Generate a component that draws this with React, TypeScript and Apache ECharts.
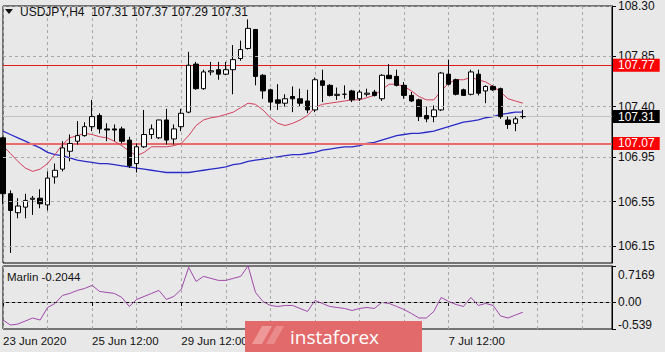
import React, { useEffect, useRef } from 'react';
import * as echarts from 'echarts';

// ---------- data ----------
const symbolName = 'USDJPY,H4';
const tickIndices = [0, 12, 24, 60];
const tickLabels = ['23 Jun 2020', '25 Jun 12:00', '29 Jun 12:00', '7 Jul 12:00'];
const priceTicks = [108.3, 107.85, 107.4, 106.95, 106.55, 106.15];
const marlinTicks = [0.7169, 0, -0.539];
const levelLines = [107.77, 107.07];
const slotCount = 83;

const opens = [107.12,106.62,106.45,106.50,106.57,106.58,106.52,106.77,106.84,107.00,
  107.09,107.14,107.22,107.32,107.20,107.20,107.20,107.10,106.89,107.04,
  107.15,107.12,107.28,107.11,107.22,107.35,107.78,107.56,107.71,107.73,
  107.69,107.73,107.83,107.92,108.09,107.68,107.55,107.46,107.43,107.49,
  107.47,107.45,107.37,107.63,107.59,107.50,107.51,107.54,107.47,107.51,
  107.53,107.47,107.68,107.67,107.59,107.50,107.46,107.32,107.31,107.37,
  107.69,107.64,107.55,107.51,107.69,107.54,107.58,107.56,107.28,107.25,
  107.31];
const closes = [106.62,106.47,106.51,106.56,106.58,106.53,106.76,106.83,107.03,107.07,
  107.14,107.22,107.31,107.20,107.19,107.19,107.09,106.87,107.04,107.15,
  107.20,107.28,107.10,107.20,107.34,107.77,107.56,107.71,107.72,107.69,
  107.73,107.82,107.91,108.10,107.67,107.54,107.44,107.43,107.47,107.47,
  107.43,107.37,107.64,107.59,107.50,107.51,107.51,107.46,107.53,107.52,
  107.50,107.68,107.65,107.59,107.50,107.45,107.31,107.29,107.37,107.70,
  107.60,107.51,107.50,107.71,107.52,107.58,107.55,107.31,107.24,107.29,
  107.31];
const lows = [106.53,106.09,106.40,106.40,106.43,106.49,106.47,106.71,106.82,106.91,
  107.06,107.13,107.18,107.16,107.09,107.09,107.07,106.85,106.81,107.03,
  107.11,107.11,107.06,107.06,107.18,107.34,107.55,107.55,107.68,107.64,
  107.68,107.51,107.81,107.91,107.59,107.47,107.37,107.37,107.40,107.35,
  107.40,107.34,107.35,107.44,107.49,107.46,107.47,107.44,107.45,107.49,
  107.49,107.45,107.65,107.58,107.47,107.44,107.27,107.26,107.26,107.36,
  107.59,107.50,107.50,107.50,107.50,107.43,107.54,107.29,107.20,107.18,
  107.29];
const highs = [107.13,106.65,106.58,106.62,106.60,106.66,106.82,106.89,107.09,107.15,
  107.27,107.26,107.46,107.34,107.25,107.24,107.22,107.13,107.07,107.37,
  107.24,107.28,107.38,107.24,107.38,107.89,107.80,107.73,107.80,107.80,
  107.80,107.95,107.99,108.18,108.09,107.69,107.56,107.60,107.51,107.58,
  107.56,107.55,107.66,107.73,107.60,107.57,107.59,107.55,107.55,107.56,
  107.55,107.69,107.78,107.73,107.62,107.53,107.47,107.40,107.41,107.71,
  107.82,107.65,107.56,107.73,107.73,107.59,107.59,107.57,107.31,107.31,
  107.37];
const redMA = [107.05,106.98,106.91,106.85,106.82,106.84,106.89,106.97,107.06,107.12,
  107.14,107.16,107.15,107.13,107.12,107.09,107.05,107.00,106.96,106.99,
  107.04,107.04,107.04,107.05,107.07,107.14,107.23,107.28,107.30,107.31,
  107.33,107.35,107.39,107.43,107.42,107.37,107.30,107.25,107.23,107.25,
  107.28,107.32,107.39,107.42,107.43,107.44,107.45,107.46,107.46,107.48,
  107.50,107.55,107.60,107.60,107.58,107.54,107.49,107.46,107.46,107.54,
  107.61,107.64,107.64,107.66,107.64,107.62,107.58,107.53,107.47,107.45,
  107.43];
const blueMA = [107.18,107.15,107.12,107.09,107.06,107.03,106.99,106.97,106.96,106.94,
  106.92,106.91,106.90,106.89,106.89,106.88,106.87,106.86,106.85,106.84,
  106.83,106.82,106.81,106.81,106.81,106.81,106.82,106.83,106.84,106.85,
  106.86,106.88,106.89,106.91,106.92,106.93,106.94,106.95,106.96,106.97,
  106.97,106.98,106.99,107.01,107.02,107.03,107.04,107.04,107.05,107.07,
  107.08,107.10,107.12,107.14,107.15,107.16,107.16,107.17,107.18,107.20,
  107.22,107.24,107.26,107.27,107.28,107.30,107.31,107.33,107.34,107.35,
  107.35];
const marlin = [-0.36,-0.46,-0.44,-0.38,-0.32,-0.36,-0.11,-0.03,0.13,0.17,
  0.23,0.27,0.33,0.21,0.19,0.17,0.09,-0.09,0.05,0.11,
  0.17,0.23,0.05,0.11,0.25,0.69,0.41,0.51,0.47,0.43,
  0.43,0.47,0.51,0.7169,0.19,0.01,-0.07,-0.09,-0.07,-0.07,
  -0.13,-0.19,0.03,-0.03,-0.09,-0.11,-0.13,-0.17,-0.13,-0.11,
  -0.13,-0.01,-0.03,-0.09,-0.15,-0.23,-0.32,-0.32,-0.19,0.09,
  0.01,-0.05,-0.09,0.09,-0.07,-0.03,-0.07,-0.28,-0.32,-0.26,
  -0.2044];

const FONT = '"Liberation Sans", Arial, sans-serif';
const GRID_LINE = { color: '#a8a8a8', type: [3, 3] as any, width: 1 };

export default function App() {
  const ref = useRef<HTMLDivElement>(null);
  useEffect(() => {
    if (!ref.current) return;
    const chart = echarts.init(ref.current, undefined, { renderer: 'svg' });
    const cats = Array.from({ length: slotCount }, (_, i) => String(i));
    const last = opens.length - 1;
    const showTick = (i: number) => tickIndices.includes(i);
    const candleData = opens.map((o, i) => [o, closes[i], lows[i], highs[i]]);
    const title = `${symbolName}  ${opens[last].toFixed(2)} ${highs[last].toFixed(2)} ${lows[last].toFixed(2)} ${closes[last].toFixed(2)}`;
    const boxLabel = (bg: string) => ({
      show: true,
      position: 'end',
      distance: 1,
      formatter: (p: any) => Number(p.value).toFixed(2),
      color: '#ffffff',
      backgroundColor: bg,
      padding: [0, 5, 0, 5],
      lineHeight: 13,
      fontSize: 12,
      fontFamily: FONT,
    });

    const option: any = {
      animation: false,
      backgroundColor: '#e8e8e8',
      grid: [
        { left: 3, right: 53, top: 3, height: 260, show: true, borderColor: '#000', borderWidth: 1, backgroundColor: 'transparent' },
        { left: 3, right: 53, top: 266, height: 63, show: true, borderColor: '#000', borderWidth: 1, backgroundColor: 'transparent' },
      ],
      xAxis: [
        {
          type: 'category', gridIndex: 0, data: cats, boundaryGap: false,
          axisLine: { show: false }, axisTick: { show: false }, axisLabel: { show: false },
          splitLine: { show: true, interval: 5, lineStyle: GRID_LINE },
        },
        {
          type: 'category', gridIndex: 1, data: cats, boundaryGap: false,
          axisLine: { show: true, lineStyle: { color: '#000', width: 1 } },
          axisTick: { show: true, interval: showTick, length: 4, lineStyle: { color: '#000' } },
          axisLabel: {
            show: true, interval: showTick, align: 'left', margin: 6,
            formatter: (_v: string, i: number) => tickLabels[tickIndices.indexOf(i)] ?? '',
            fontSize: 11.5, fontFamily: FONT, color: '#111',
          },
          splitLine: { show: true, interval: 5, lineStyle: GRID_LINE },
        },
      ],
      yAxis: [
        {
          type: 'value', gridIndex: 0, position: 'right', min: 106.0, max: 108.3, scale: true,
          axisLine: { show: true, lineStyle: { color: '#000' } },
          axisTick: { show: true, customValues: priceTicks, length: 4, lineStyle: { color: '#000' } },
          axisLabel: { show: true, customValues: priceTicks, formatter: (v: number) => v.toFixed(2), margin: 6, fontSize: 12, fontFamily: FONT, color: '#111' },
          splitLine: { show: false },
        },
        {
          type: 'value', gridIndex: 1, position: 'right', min: -0.539, max: 0.7169, scale: true,
          axisLine: { show: true, lineStyle: { color: '#000' } },
          axisTick: { show: true, customValues: marlinTicks, length: 4, lineStyle: { color: '#000' } },
          axisLabel: {
            show: true, customValues: marlinTicks, margin: 6,
            formatter: (v: number) => {
              if (Math.abs(v - marlinTicks[0]) < 1e-6) return '{t|' + marlinTicks[0].toFixed(4) + '}';
              if (Math.abs(v - marlinTicks[2]) < 1e-6) return '{b|' + marlinTicks[2].toFixed(3) + '}';
              return '{m|0.00}';
            },
            rich: {
              t: { fontSize: 12, fontFamily: FONT, color: '#111', padding: [17, 0, 0, 0] },
              m: { fontSize: 12, fontFamily: FONT, color: '#111' },
              b: { fontSize: 12, fontFamily: FONT, color: '#111', padding: [0, 0, 9, 0] },
            },
          },
          splitLine: { show: false },
        },
      ],
      series: [
        {
          name: 'grid', type: 'line', xAxisIndex: 0, yAxisIndex: 0, data: blueMA,
          showSymbol: false, silent: true, z: 1,
          lineStyle: { color: '#2a2ac8', width: 1.3 },
          markLine: {
            silent: true, symbol: ['none', 'none'], label: { show: false },
            lineStyle: GRID_LINE,
            data: priceTicks.map((v) => ({ yAxis: v })),
          },
        },
        {
          name: 'red', type: 'line', xAxisIndex: 0, yAxisIndex: 0, data: redMA,
          showSymbol: false, silent: true, z: 3,
          lineStyle: { color: '#d2405c', width: 1 },
        },
        {
          name: 'price', type: 'candlestick', xAxisIndex: 0, yAxisIndex: 0, data: candleData,
          barWidth: 5, z: 4,
          itemStyle: { color: '#ffffff', color0: '#000000', borderColor: '#000000', borderColor0: '#000000', borderWidth: 1 },
          markLine: {
            silent: true, symbol: ['none', 'none'], z: 2,
            data: [
              { yAxis: levelLines[0], lineStyle: { color: '#e21a1a', width: 1, type: 'solid' }, label: boxLabel('#ff0000') },
              { yAxis: levelLines[1], lineStyle: { color: '#e86c6c', width: 2, type: 'solid' }, label: boxLabel('#ff0000') },
              { yAxis: closes[last], lineStyle: { color: '#c2c2c2', width: 1, type: 'solid' }, label: boxLabel('#000000') },
            ],
          },
        },
        {
          name: 'Marlin', type: 'line', xAxisIndex: 1, yAxisIndex: 1, data: marlin,
          showSymbol: false, silent: true,
          lineStyle: { color: '#9e4aa8', width: 1 },
          markLine: {
            silent: true, symbol: ['none', 'none'], label: { show: false },
            lineStyle: GRID_LINE, data: [{ yAxis: 0 }],
          },
        },
      ],
      graphic: [
        { type: 'polygon', shape: { points: [[5, 9], [13, 9], [9, 14]] }, style: { fill: '#111' }, z: 10 },
        { type: 'text', x: 20, y: 12, style: { text: title, fontSize: 12, fontFamily: FONT, fill: '#111', verticalAlign: 'middle' }, z: 10 },
        { type: 'text', x: 7, y: 277, style: { text: `Marlin ${marlin[last].toFixed(4)}`, fontSize: 11.5, fontFamily: FONT, fill: '#111', verticalAlign: 'middle' }, z: 10 },
        { type: 'rect', z: 100, shape: { x: 245, y: 321, width: 177, height: 31 }, style: { fill: '#e36a6a' } },
        { type: 'polygon', z: 101, shape: { points: [[252, 344], [262, 326], [272, 326], [262, 344]] }, style: { fill: '#ee9898' } },
        { type: 'polygon', z: 101, shape: { points: [[266, 344], [276, 326], [284, 326], [274, 344]] }, style: { fill: '#eb8a8a' } },
        { type: 'text', z: 102, x: 290, y: 337, style: { text: 'instaforex', fontSize: 19, fontFamily: '"Open Sans", sans-serif', fill: '#ffffff', verticalAlign: 'middle' } },
      ],
    };
    chart.setOption(option);
    return () => chart.dispose();
  }, []);
  return <div ref={ref} style={{ position: 'absolute', left: 0, top: 0, width: 665, height: 352 }} />;
}
